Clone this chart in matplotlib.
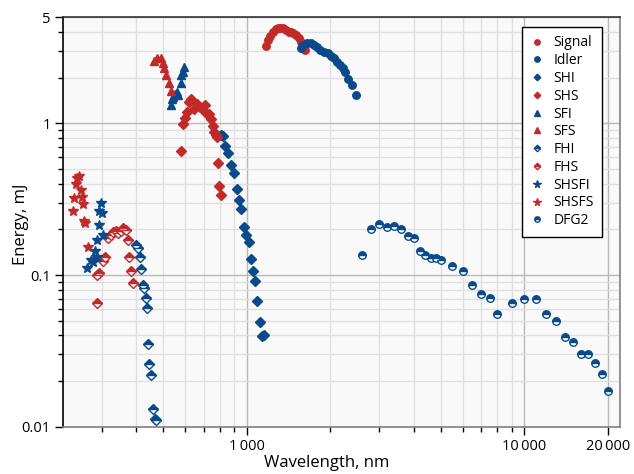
import matplotlib
matplotlib.use("Agg")
import matplotlib.pyplot as plt
from matplotlib.ticker import FixedLocator, FixedFormatter, NullFormatter

plt.rcParams['font.family'] = ['Open Sans', 'DejaVu Sans']

RED = '#c22a2a'
BLUE = '#0b4a8a'

# === datos (longitud de onda en nm, energia en mJ) ===
signal_x = [1174, 1196, 1213, 1241, 1275, 1300, 1318, 1354, 1385, 1424, 1445, 1465, 1505, 1539, 1565, 1599, 1622]
signal_y = [3.25, 3.54, 3.76, 4.02, 4.19, 4.24, 4.25, 4.23, 4.12, 4.00, 3.98, 3.96, 3.82, 3.64, 3.45, 3.17, 3.04]

idler_x = [1565, 1599, 1645, 1700, 1747, 1788, 1837, 1899, 1963, 2018, 2063, 2121, 2169, 2218, 2254, 2317, 2395, 2476]
idler_y = [3.12, 3.28, 3.37, 3.37, 3.28, 3.17, 3.04, 2.95, 2.89, 2.79, 2.68, 2.55, 2.42, 2.31, 2.19, 1.95, 1.80, 1.54]

shi_x = [810, 823, 837, 856, 876, 900, 920, 936, 956, 978, 994, 1017, 1039, 1056, 1074, 1092, 1117, 1135, 1154]
shi_y = [0.834, 0.825, 0.709, 0.635, 0.529, 0.473, 0.371, 0.312, 0.271, 0.206, 0.184, 0.164, 0.128, 0.107,
         0.091, 0.067, 0.049, 0.0396, 0.0404]

shs_x = [628, 618, 660, 646, 679, 706, 690, 608, 718, 733, 598, 742, 588, 754, 763, 775, 780, 578, 788, 797, 806]
shs_y = [1.44, 1.38, 1.34, 1.25, 1.29, 1.33, 1.25, 1.19, 1.16, 1.15, 1.08, 1.07, 0.99, 0.96, 0.881, 0.838,
         0.816, 0.660, 0.550, 0.386, 0.335]

sfi_x = [594, 588, 581, 578, 560, 553, 567, 544, 538, 535]
sfi_y = [2.34, 2.19, 2.08, 1.84, 1.62, 1.56, 1.54, 1.48, 1.44, 1.32]

sfs_x = [464, 476, 490, 498, 504, 512, 524, 535]
sfs_y = [2.58, 2.68, 2.68, 2.49, 2.31, 2.08, 1.85, 1.64]

fhi_x = [399, 407, 413, 417, 422, 427, 434, 438, 442, 446, 451, 459, 469, 471]
fhi_y = [0.158, 0.150, 0.132, 0.109, 0.086, 0.0818, 0.0703, 0.0609, 0.0350, 0.0259, 0.0219, 0.0130,
         0.0113, 0.0111]

fhs_x = [288, 294, 290, 303, 308, 317, 324, 331, 338, 345, 352, 359, 367, 374, 378, 382, 388]
fhs_y = [0.0651, 0.103, 0.100, 0.124, 0.132, 0.176, 0.184, 0.193, 0.195, 0.190, 0.195, 0.203, 0.198,
         0.170, 0.132, 0.107, 0.089]

shsfi_x = [298, 294, 300, 293, 303, 290, 285, 288, 274, 280, 265]
shsfi_y = [0.297, 0.265, 0.255, 0.214, 0.184, 0.170, 0.145, 0.132, 0.126, 0.121, 0.111]

shsfs_x = [249, 245, 243, 252, 239, 256, 258, 236, 260, 262, 267]
shsfs_y = [0.450, 0.434, 0.398, 0.364, 0.320, 0.325, 0.294, 0.265, 0.228, 0.219, 0.154]

dfg2_x = [2600, 2800, 3000, 3200, 3400, 3600, 3800, 4000, 4200, 4400, 4600, 4800, 5000, 5500, 6000, 6500,
          7000, 7500, 8000, 9000, 10000, 11000, 12000, 13000, 14000, 15000, 16000, 17000, 18000, 19000, 20000]
dfg2_y = [0.136, 0.200, 0.216, 0.208, 0.210, 0.202, 0.182, 0.175, 0.145, 0.136, 0.130, 0.130, 0.125, 0.115,
          0.107, 0.0864, 0.0753, 0.0702, 0.0553, 0.0651, 0.0692, 0.0692, 0.0551, 0.0500, 0.0392, 0.0360,
          0.0302, 0.0302, 0.0262, 0.0222, 0.0171]

x_ticks = [1000, 10000, 20000]
x_labels = ['1\u2009000', '10\u2009000', '20\u2009000']
y_ticks = [0.01, 0.1, 1, 5]
y_labels = ['0.01', '0.1', '1', '5']

# === Graficar ===
fig = plt.figure(figsize=(6.34, 4.74), dpi=100)
ax = fig.add_axes([63.3 / 634, 1 - 426.7 / 474, (620 - 63.3) / 634, (426.7 - 17.3) / 474])
ax.set_facecolor('#f9f9f9')

ms = 5.4
series = [
    (signal_x, signal_y, 'Signal', 'o', RED, 'full'),
    (idler_x, idler_y, 'Idler', 'o', BLUE, 'full'),
    (shi_x, shi_y, 'SHI', 'D', BLUE, 'full'),
    (shs_x, shs_y, 'SHS', 'D', RED, 'full'),
    (sfi_x, sfi_y, 'SFI', '^', BLUE, 'full'),
    (sfs_x, sfs_y, 'SFS', '^', RED, 'full'),
    (fhi_x, fhi_y, 'FHI', 'D', BLUE, 'top'),
    (fhs_x, fhs_y, 'FHS', 'D', RED, 'top'),
    (shsfi_x, shsfi_y, 'SHSFI', '*', BLUE, 'full'),
    (shsfs_x, shsfs_y, 'SHSFS', '*', RED, 'full'),
    (dfg2_x, dfg2_y, 'DFG2', 'o', BLUE, 'top'),
]
for xs, ys, lab, mk, col, fs in series:
    size = ms
    if mk == 'D':
        size = ms * 0.85
    if mk == '*':
        size = ms * 1.4
    ax.plot(xs, ys, linestyle='none', marker=mk, markersize=size, color=col,
            markerfacecolor=col, markeredgecolor=col, markeredgewidth=1.0,
            fillstyle=fs, markerfacecoloralt='white', label=lab, zorder=3)

ax.set_xscale('log')
ax.set_yscale('log')
ax.set_xlim(218.4, 22120)
ax.set_ylim(0.01, 5)

ax.xaxis.set_major_locator(FixedLocator(x_ticks))
ax.xaxis.set_major_formatter(FixedFormatter(x_labels))
x_minor = [m * d for d in (100, 1000) for m in range(2, 10)] + [20000]
ax.xaxis.set_minor_locator(FixedLocator([v for v in x_minor if v > 218]))
ax.xaxis.set_minor_formatter(NullFormatter())

ax.yaxis.set_major_locator(FixedLocator(y_ticks))
ax.yaxis.set_major_formatter(FixedFormatter(y_labels))
y_minor = [m * d for d in (0.01, 0.1, 1) for m in range(2, 10) if m * d < 5]
ax.yaxis.set_minor_locator(FixedLocator(y_minor))
ax.yaxis.set_minor_formatter(NullFormatter())

ax.tick_params(which='major', direction='out', length=6, width=1, labelsize=10.5, color='black', pad=3)
ax.tick_params(which='minor', direction='out', length=3.5, width=1, color='black')

ax.grid(True, which='major', color='#b8b8b8', linewidth=1, zorder=0)
ax.grid(True, which='minor', color='#e0e0e0', linewidth=1, zorder=0)
ax.set_axisbelow(True)

ax.spines['left'].set_color('black')
ax.spines['top'].set_color('#333333')
ax.spines['bottom'].set_color('#808080')
ax.spines['right'].set_color('#808080')
for s in ax.spines.values():
    s.set_linewidth(1.2)

ax.set_xlabel('Wavelength, nm', fontsize=12)
ax.set_ylabel('Energy, mJ', fontsize=12)
ax.xaxis.set_label_coords(0.474, -0.068)
ax.yaxis.set_label_coords(-0.062, 0.495)

leg = ax.legend(loc='upper right', bbox_to_anchor=(0.968, 0.976), borderaxespad=0,
                fontsize=10, markerscale=0.72, handlelength=1.0, handletextpad=0.7,
                labelspacing=0.2, borderpad=0.6, fancybox=False, framealpha=1,
                edgecolor='black')
leg.get_frame().set_linewidth(1.0)

fig.savefig('out.png', dpi=100)
